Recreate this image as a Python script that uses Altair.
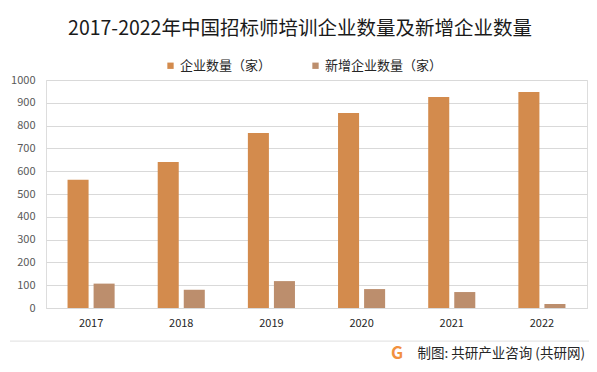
import altair as alt
import pandas as pd

years = ["2017", "2018", "2019", "2020", "2021", "2022"]
total_companies = [562, 640, 767, 855, 925, 947]
new_companies = [107, 80, 118, 83, 70, 18]
series_names = ["企业数量（家）", "新增企业数量（家）"]
series_colors = ["#D38B4D", "#BC8E6D"]
y_ticks = list(range(0, 1001, 100))

title_text = "2017-2022年中国招标师培训企业数量及新增企业数量"
source_text = "制图: 共研产业咨询 (共研网)"

FONT = "Noto Sans CJK SC"

rows = []
for i, y in enumerate(years):
    rows.append({"year": y, "series": series_names[0], "value": total_companies[i]})
    rows.append({"year": y, "series": series_names[1], "value": new_companies[i]})
df = pd.DataFrame(rows)

bars = alt.Chart(df).mark_bar().encode(
    x=alt.X("year:N", sort=years,
            scale=alt.Scale(paddingInner=0, paddingOuter=0),
            axis=alt.Axis(title=None, labelAngle=0, ticks=False, labelPadding=9,
                          labelFontSize=11, labelColor="#262626", labelFont=FONT,
                          domainColor="#D9D9D9", grid=False)),
    xOffset=alt.XOffset("series:N", sort=series_names,
                        scale=alt.Scale(paddingInner=0.1923, paddingOuter=0.827)),
    y=alt.Y("value:Q",
            scale=alt.Scale(domain=[0, 1000], nice=False),
            axis=alt.Axis(title=None, values=y_ticks, ticks=False, domain=False,
                          format="d",
                          labelPadding=11, labelFontSize=11, labelColor="#595959",
                          labelFont=FONT, gridColor="#D9D9D9", gridWidth=1)),
    color=alt.Color("series:N", sort=series_names,
                    scale=alt.Scale(domain=series_names, range=series_colors),
                    legend=alt.Legend(title=None, orient="none", direction="horizontal",
                                      legendX=118, legendY=-21, symbolType="square",
                                      symbolSize=40, symbolStrokeWidth=0,
                                      labelFontSize=13, labelFont=FONT,
                                      labelColor="#262626", columnPadding=37,
                                      labelOffset=3, padding=0)),
)

title_df = pd.DataFrame({"t": [title_text]})
title = alt.Chart(title_df).mark_text(
    font=FONT, fontSize=19.5, color="#1a1a1a", align="center", baseline="middle"
).encode(x=alt.value(254), y=alt.value(-51), text="t:N")

sep_df = pd.DataFrame({"a": [0]})
sep = alt.Chart(sep_df).mark_rect(color="#E6E6E6").encode(
    x=alt.value(-36), x2=alt.value(543), y=alt.value(260.5), y2=alt.value(261.8)
)

src_df = pd.DataFrame({"t": [source_text]})
source = alt.Chart(src_df).mark_text(
    font=FONT, fontSize=13.5, color="#262626", align="right", baseline="middle"
).encode(x=alt.value(539), y=alt.value(274), text="t:N")

logo_df = pd.DataFrame({"t": ["G"]})
logo = alt.Chart(logo_df).mark_text(
    font=FONT, fontSize=17, fontWeight="bold", color="#F2913F",
    align="center", baseline="middle"
).encode(x=alt.value(351), y=alt.value(274), text="t:N")

chart = alt.layer(bars, title, sep, source, logo).properties(
    width=541, height=228,
    autosize=alt.AutoSizeParams(type="none"),
    padding={"left": 38, "top": 72, "right": 2, "bottom": 56},
).configure_view(stroke=None).configure(background="white")

chart.save("out.html", embed_options={"renderer": "svg", "actions": False})
